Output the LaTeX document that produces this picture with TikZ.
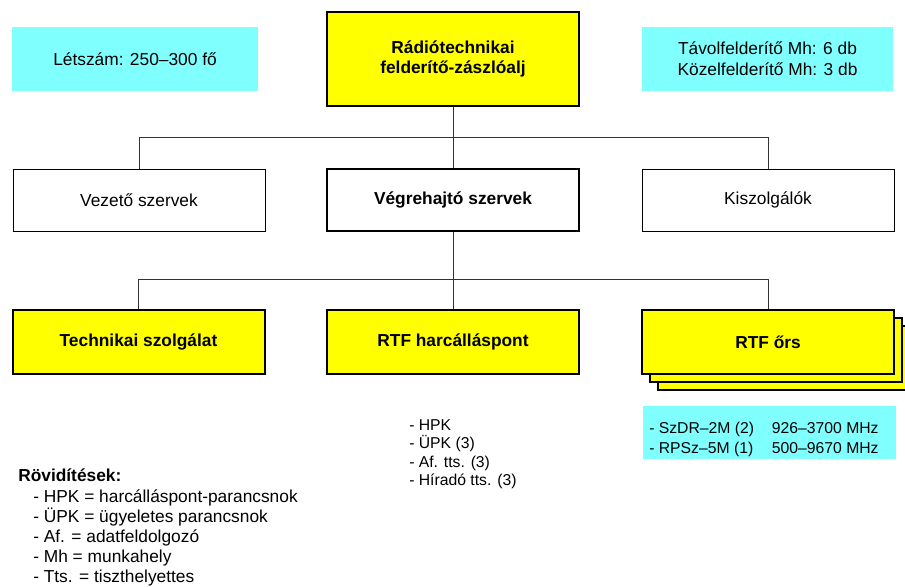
\documentclass[tikz,border=0pt]{standalone}
\usepackage{fontspec}
\setmainfont{Liberation Sans}
\definecolor{yel}{HTML}{FFFF00}
\definecolor{lightcyan}{HTML}{80FFFF}
\begin{document}
\begin{tikzpicture}[x=0.75pt,y=-0.75pt,
  box/.style={draw, line width=0.75pt, minimum width=189pt, minimum height=46.5pt, inner sep=0pt, align=center, font=\fontsize{13}{15.75}\selectfont},
  unit/.style={box, fill=yel, line width=1.5pt, minimum height=48pt, font=\fontsize{13}{15}\selectfont\bfseries},
  info/.style={fill=lightcyan, inner sep=0pt, align=center, font=\fontsize{13}{15.75}\selectfont},
  lst/.style={inner sep=0pt, align=left, anchor=north west, font=\fontsize{11.8}{13.75}\selectfont},
  conn/.style={draw=black!80, line width=0.75pt}]
\useasboundingbox (0,0) rectangle (905,586);

% top row
\node[unit, minimum height=70.5pt](top) at (453,59) {Rádiótechnikai\\felderítő-zászlóalj};
\node[info, minimum width=184.5pt, minimum height=48pt](count) at (135,59) {Létszám: 250–300 fő};
\node[info, minimum width=188.25pt, minimum height=48pt](posts) at (767.5,59) {Távolfelderítő Mh: 6 db\\Közelfelderítő Mh: 3 db};

% second row
\node[box](lead) at (139,200) {Vezető szervek};
\node[box, line width=1.5pt, font=\fontsize{13}{15.75}\selectfont\bfseries](exec) at (453,200) {Végrehajtó szervek};
\node[box](serv) at (768,200) {Kiszolgálók};

% third row
\node[unit](tech) at (138.5,342) {Technikai szolgálat};
\node[unit](hq) at (453,342) {RTF harcálláspont};
\node[unit](post3) at (784,358) {};
\node[unit](post2) at (776,350) {};
\node[unit](post) at (768,342) {RTF őrs};

\coordinate (bus1) at (453,137);
\coordinate (bus2) at (453,279);

\draw[conn] (top) -- (bus1);
\draw[conn] (bus1) -| (lead);
\draw[conn] (bus1) -- (exec);
\draw[conn] (bus1) -| (serv);

\draw[conn] (exec) -- (bus2);
\draw[conn] (bus2) -| (tech);
\draw[conn] (bus2) -- (hq);
\draw[conn] (bus2) -| (post);

% notes
\node[lst](crew) at (409,419.5) {- HPK\\- ÜPK (3)\\- Af. tts. (3)\\- Híradó tts. (3)};
\node[info, minimum width=189.75pt, minimum height=39.75pt](radar) at (769.5,432.5) {};
\node[lst, font=\fontsize{11.8}{15}\selectfont](radars) at (649,419.5) {%
\begin{tabular}{@{}p{92pt}@{}l@{}}
- SzDR–2M (2) & 926–3700 MHz\\
- RPSz–5M (1) & 500–9670 MHz
\end{tabular}};

\node[inner sep=0pt, anchor=north west, font=\fontsize{13}{15}\selectfont\bfseries](abbr) at (18,469) {Rövidítések:};
\node[lst, font=\fontsize{13}{15}\selectfont](abbrlist) at (33,489) {- HPK = harcálláspont-parancsnok\\- ÜPK = ügyeletes parancsnok\\- Af. = adatfeldolgozó\\- Mh = munkahely\\- Tts. = tiszthelyettes};

\end{tikzpicture}
\end{document}
